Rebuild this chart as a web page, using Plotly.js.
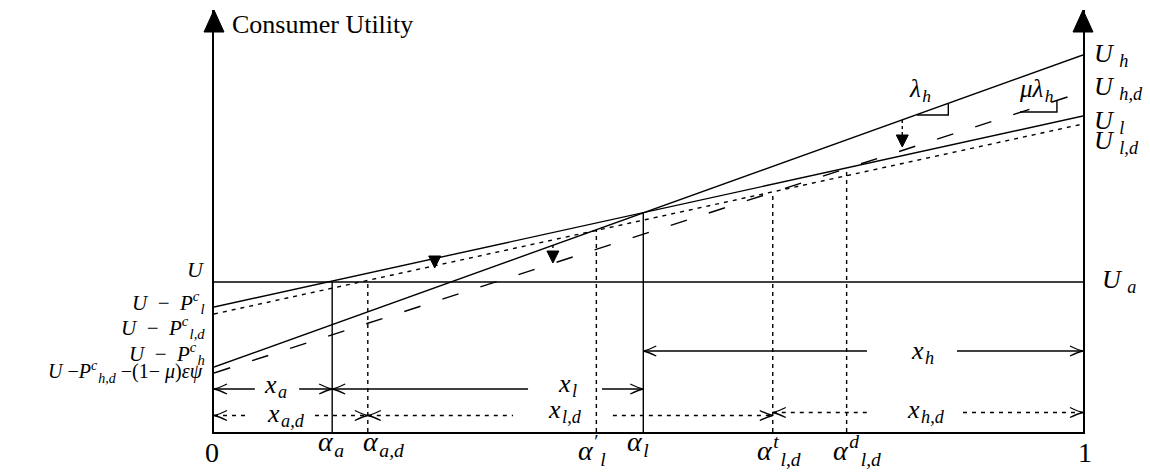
<!DOCTYPE html>
<html>
<head>
<meta charset="utf-8">
<script src="https://cdn.plot.ly/plotly-3.0.1.min.js"></script>
<style>
  html, body { margin: 0; padding: 0; background: #fff; }
  #chart { width: 1150px; height: 472px; }
</style>
</head>
<body>
<div id="chart"></div>
<script>
// Consumer share along the horizontal axis, from 0 to 1
const shareEnds = [0, 1];

// Consumer utility of each offer at share 0 and at share 1
const utilOutside = [1.50, 1.50];   // U_a
const utilLow     = [1.25, 3.16];   // U_l
const utilLowDef  = [1.18, 3.08];   // U_l,d
const utilHigh    = [0.65, 3.77];   // U_h
const utilHighDef = [0.59, 3.40];   // U_h,d

// Threshold consumers: position on the share axis and height where the marker line stops
const thresholdLabels = [
  '<i>α</i><sub>\u200A<i>a</i></sub>',
  '<i>α</i><sub>\u200A<i>a,d</i></sub>',
  '<i>α</i><sup>\u200A′</sup><sub>\u200A<i>l</i></sub>',
  '<i>α</i><sub>\u200A<i>l</i></sub>',
  '<i>α</i><sup>\u200A<i>t</i></sup><sub>\u200A<i>l,d</i></sub>',
  '<i>α</i><sup>\u200A<i>d</i></sup><sub>\u200A<i>l,d</i></sub>'
];
const thresholdShare = [0.136, 0.177, 0.440, 0.494, 0.643, 0.728];
const thresholdTop   = [1.50, 1.50, 2.02, 2.19, 2.40, 2.62];
const thresholdSolid = [true, false, false, true, false, false];

// Market segments: [from threshold index, to threshold index], -1 = share 0, 6 = share 1
const segmentLabels = [
  '<i>x</i><sub>\u200A<i>a</i></sub>', '<i>x</i><sub>\u200A<i>l</i></sub>', '<i>x</i><sub>\u200A<i>h</i></sub>',
  '<i>x</i><sub>\u200A<i>a,d</i></sub>', '<i>x</i><sub>\u200A<i>l,d</i></sub>', '<i>x</i><sub>\u200A<i>h,d</i></sub>'
];
const segmentFrom = [-1, 0, 3, -1, 1, 4];
const segmentTo   = [0, 3, 6, 1, 4, 6];

// Utility drops caused by the defect: share, utility before, utility after
const dropShare = [0.254, 0.390, 0.792];
const dropFrom  = [1.74, 1.87, 3.12];
const dropTo    = [1.64, 1.69, 2.85];

// Slope markers (λ_h and μλ_h): share span and utility rise
const slopeLabels = ['<i>λ</i><sub>\u200A<i>h</i></sub>', '<i>μλ</i><sub>\u200A<i>h</i></sub>'];
const slopeShare  = [[0.809, 0.845], [0.9275, 0.970]];
const slopeUtil   = [[3.17, 3.28], [3.20, 3.31]];

// ---------- drawing ----------
const FONT = 'Liberation Serif, Times New Roman, serif';
const INK = '#000';
const LW = 1.4;
const YMAX = 4.22;

function shareAt(i) { return i < 0 ? shareEnds[0] : (i >= thresholdShare.length ? shareEnds[1] : thresholdShare[i]); }

const traces = [];
function line(x, y, dash, width) {
  traces.push({
    type: 'scatter', mode: 'lines', x: x, y: y, hoverinfo: 'skip', showlegend: false,
    line: { color: INK, width: width || LW, dash: dash || 'solid' }
  });
}

const shapes = [];
const annotations = [];
// text placed in paper space so labels outside the axes stay visible; y given in utility units
function label(text, x, y, xanchor, yanchor, size, extra) {
  annotations.push(Object.assign({
    x: x, y: y / YMAX, xref: 'paper', yref: 'paper', text: text, showarrow: false,
    xanchor: xanchor, yanchor: yanchor, font: { family: FONT, size: size, color: INK }
  }, extra || {}));
}

// utility lines
line(shareEnds, utilOutside);
line(shareEnds, utilLow);
line(shareEnds, utilLowDef, '4px,5px');
line(shareEnds, utilHigh);
line(shareEnds, utilHighDef, '17px,23px');

// threshold marker lines
thresholdShare.forEach((s, i) => {
  line([s, s], [0, thresholdTop[i]], thresholdSolid[i] ? 'solid' : '4px,4px');
});

// slope markers
slopeShare.forEach((sx, i) => {
  line([sx[0], sx[1], sx[1]], [slopeUtil[i][0], slopeUtil[i][0], slopeUtil[i][1]]);
});

// drop stems (dotted, above each triangle head)
const HEAD_H = 0.12; // triangle height in utility units (12 px)
dropShare.forEach((s, i) => {
  if (dropFrom[i] > dropTo[i] + HEAD_H) line([s, s], [dropFrom[i], dropTo[i] + HEAD_H], '3px,3px');
});

// segment dimension rows: height, label gap and label position
const dimRows = [
  { y: 0.43,  gap: [0.047, 0.098],  lx: 0.0713, ly: 0.46 },
  { y: 0.43,  gap: [0.3614, 0.4465], lx: 0.407, ly: 0.47 },
  { y: 0.81,  gap: [0.7514, 0.855], lx: 0.815,  ly: 0.80 },
  { y: 0.165, gap: [0.0391, 0.1162], lx: 0.083, ly: 0.17 },
  { y: 0.165, gap: [0.3441, 0.459], lx: 0.404,  ly: 0.21 },
  { y: 0.195, gap: [0.7514, 0.8619], lx: 0.819, ly: 0.21 }
];

function arrowHead(x, y, dir) {
  const p = dir > 0 ? 'M-13,5 Q-5,1 0,0 Q-5,-1 -13,-5' : 'M13,5 Q5,1 0,0 Q5,-1 13,-5';
  shapes.push({ type: 'path', xref: 'x', yref: 'y', xsizemode: 'pixel', ysizemode: 'pixel',
    xanchor: x, yanchor: y, path: p, line: { color: INK, width: 1.3 } });
}

segmentLabels.forEach((lab, i) => {
  const r = dimRows[i];
  const a = shareAt(segmentFrom[i]), b = shareAt(segmentTo[i]);
  const dash = i < 3 ? 'solid' : '4px,5px';
  line([a, r.gap[0]], [r.y, r.y], dash, 1.3);
  line([r.gap[1], b], [r.y, r.y], dash, 1.3);
  arrowHead(a, r.y, -1);
  arrowHead(b, r.y, 1);
  label(lab, r.lx, r.ly, 'center', 'middle', 26);
});

// drop triangles
dropShare.forEach((s, i) => {
  shapes.push({ type: 'path', xref: 'x', yref: 'y', xsizemode: 'pixel', ysizemode: 'pixel',
    xanchor: s, yanchor: dropTo[i], path: 'M-6,12 L6,12 L0,0 Z',
    fillcolor: INK, line: { color: INK, width: 1 } });
});

// axis arrow heads on both vertical axes
[0, 1].forEach(px => {
  shapes.push({ type: 'path', xref: 'paper', yref: 'paper', xsizemode: 'pixel', ysizemode: 'pixel',
    xanchor: px, yanchor: 1, path: 'M-10,-22 L10,-22 L0,0 Z',
    fillcolor: INK, line: { color: INK, width: 1 } });
});

// threshold labels under the axis
const thresholdLabelX = [0.135, 0.1956, 0.435, 0.488, 0.650, 0.740];
const thresholdLabelY = [0.08, 0.08, 0.03, 0.08, 0.03, 0.03];
thresholdLabels.forEach((t, i) => label(t, thresholdLabelX[i], thresholdLabelY[i], 'center', 'top', 28));
label('0', -0.002, -0.03, 'center', 'top', 28);
label('1', 1.002, -0.03, 'center', 'top', 28);

// slope labels
const slopeLabelPos = [[0.812, 3.41], [0.947, 3.41]];
slopeLabels.forEach((t, i) => label(t, slopeLabelPos[i][0], slopeLabelPos[i][1], 'center', 'middle', 25));

// right-hand utility labels
label('<i>U</i> <sub><i>h</i></sub>', 1.010, 3.77, 'left', 'middle', 26);
label('<i>U</i> <sub><i>l</i></sub>', 1.010, 3.10, 'left', 'middle', 26);
label('<i>U</i> <sub><i>h,d</i></sub>', 1.010, 3.44, 'left', 'middle', 26, { bgcolor: '#fff' });
label('<i>U</i> <sub><i>l,d</i></sub>', 1.010, 2.90, 'left', 'middle', 26);
label('<i>U</i> <sub><i>a</i></sub>', 1.019, 1.51, 'left', 'middle', 26);

// left-hand intercept labels
label('<i>U</i>', -0.008, 1.62, 'right', 'middle', 22);
label('<i>U</i>  −  <i>P</i><sup><i>c</i></sup><sub>\u200A<i>l</i></sub>', -0.008, 1.30, 'right', 'middle', 21);
label('<i>U</i>  −  <i>P</i><sup><i>c</i></sup><sub>\u200A<i>l,d</i></sub>', -0.008, 1.05, 'right', 'middle', 21);
label('<i>U</i>  −  <i>P</i><sup><i>c</i></sup><sub>\u200A<i>h</i></sub>', -0.008, 0.79, 'right', 'middle', 21);
label('<i>U</i> −<i>P</i><sup><i>c</i></sup><sub>\u200A<i>h,d</i></sub> −(1− <i>μ</i>)<i>εψ</i>', -0.010, 0.60, 'right', 'middle', 20);

// axis title beside the left arrow
label('Consumer Utility', 0.0184, 4.07, 'left', 'middle', 26);

const layout = {
  width: 1150, height: 472,
  margin: { l: 214, r: 67, t: 10, b: 40 },
  paper_bgcolor: '#fff', plot_bgcolor: '#fff',
  showlegend: false,
  xaxis: { range: [0, 1], showgrid: false, zeroline: false, showticklabels: false, ticks: '',
    showline: true, linecolor: INK, linewidth: 2, fixedrange: true },
  yaxis: { range: [0, YMAX], showgrid: false, zeroline: false, showticklabels: false, ticks: '',
    showline: true, mirror: true, linecolor: INK, linewidth: 2, fixedrange: true },
  shapes: shapes,
  annotations: annotations
};

Plotly.newPlot('chart', traces, layout, { displayModeBar: false, staticPlot: true });
</script>
</body>
</html>
